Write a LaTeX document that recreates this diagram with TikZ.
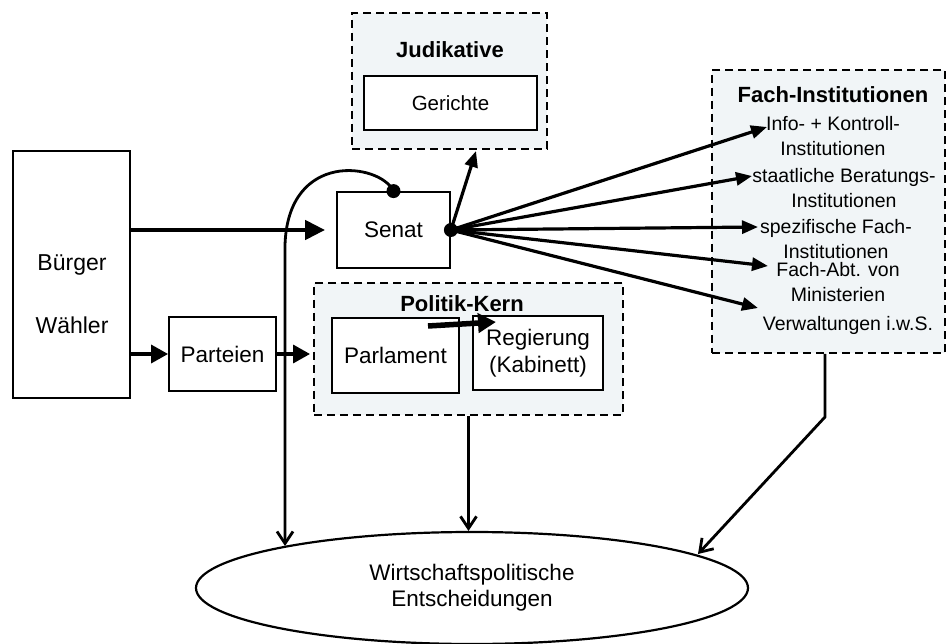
\documentclass[tikz,border=0pt]{standalone}
\usepackage{fontspec}
\setmainfont{Liberation Sans}
\usetikzlibrary{arrows.meta,shapes.geometric}
\definecolor{groupfill}{RGB}{241,245,247}
\begin{document}
\begin{tikzpicture}[x=1pt,y=-1pt,
  box/.style={draw,line width=1.8pt,fill=white,inner sep=0pt,align=center,font=\fontsize{22.5}{27}\selectfont},
  txt/.style={inner sep=0pt,align=center,font=\fontsize{23}{26}\selectfont},
  group/.style={draw,dash pattern=on 8pt off 5pt,line width=1.9pt,fill=groupfill,inner sep=0pt},
  head/.style={inner sep=0pt,font=\bfseries\fontsize{22}{25}\selectfont},
  item/.style={inner sep=0pt,align=center,font=\fontsize{19.5}{25}\selectfont},
  fan/.style={line width=3.2pt,-{Triangle[length=16pt,width=13pt]}},
  bigarrow/.style={line width=4.5pt,-{Triangle[length=20pt,width=19pt]}},
  midarrow/.style={line width=3.4pt,-{Triangle[length=17pt,width=18pt]}},
  openarrow/.style={line width=2.8pt,-{Straight Barb[length=12pt,width=16pt,line width=2.8pt]}},
  dot/.style={circle,fill,inner sep=0pt,minimum size=14pt}]

\useasboundingbox (0,0) rectangle (948,644);

% dashed groups
\node[group,minimum width=195pt,minimum height=136pt] (jud) at (449.5,81) {};
\node[group,minimum width=309pt,minimum height=132pt] (pk) at (468.5,349) {};
\node[group,minimum width=233pt,minimum height=283pt] (fach) at (828.5,211.5) {};

\node[head] (judh) at (450,50) {Judikative};
\node[head] (pkh) at (462,304) {Politik-Kern};
\node[head] (fachh) at (833,95) {Fach-Institutionen};

% boxes
\node[box,minimum width=173pt,minimum height=54pt,font=\fontsize{20.5}{24}\selectfont] (ger) at (450.5,103) {Gerichte};
\node[box,minimum width=117pt,minimum height=247pt] (buerger) at (71.5,274.5) {};
\node[txt] (bt) at (72,265) {Bürger};
\node[txt] (wt) at (72,325) {Wähler};
\node[box,minimum width=113pt,minimum height=76pt] (senat) at (393.5,230) {Senat};
\node[box,minimum width=107pt,minimum height=74pt] (parteien) at (222.5,354) {Parteien};
\node[box,minimum width=127pt,minimum height=75pt] (parl) at (395.5,355.5) {Parlament};
\node[box,minimum width=130pt,minimum height=74pt] (reg) at (538,353) {Regierung\\(Kabinett)};

\node[draw,ellipse,line width=2.2pt,minimum width=552pt,minimum height=112pt,inner sep=0pt,align=center,font=\fontsize{22.5}{26}\selectfont] (ell) at (472,588) {Wirtschaftspolitische\\Entscheidungen};

% Fach items
\node[item] (i1) at (833,136.5) {Info- + Kontroll-\\Institutionen};
\node[item] (i2) at (844,188.5) {staatliche Beratungs-\\Institutionen};
\node[item] (i3) at (836,239.5) {spezifische Fach-\\Institutionen};
\node[item] (i4) at (838,282.5) {Fach-Abt. von\\Ministerien};
\node[item] (i5) at (848,325) {Verwaltungen i.w.S.};

% coordinates
\coordinate (t1) at (767,127);
\coordinate (t2) at (752,176);
\coordinate (t3) at (758,227);
\coordinate (t4) at (768,266);
\coordinate (t5) at (758,308);
\coordinate (tj) at (476,151);
\coordinate (cL) at (285,546);
\coordinate (fb) at (825,417);
\coordinate (fr) at (698,554);
\coordinate (pa) at (428,326);
\coordinate (pb) at (496,322);

% connectors
\draw[bigarrow,shorten >=11pt] (buerger.east |- senat.west) -- (senat.west);
\draw[midarrow] (buerger.east |- parteien.west) -- (parteien.west);
\draw[midarrow,shorten >=3pt] (parteien.east) -- (parteien.east -| pk.west);
\draw[line width=5.5pt,-{Triangle[length=18pt,width=19pt]}] (pa) -- (pb);

\node[dot] (d1) at (senat.east) {};
\node[dot] (d2) at (senat.north) {};

\draw[fan] (d1.center) -- (tj);
\draw[fan] (d1.center) -- (t1);
\draw[fan] (d1.center) -- (t2);
\draw[fan] (d1.center) -- (t3);
\draw[fan] (d1.center) -- (t4);
\draw[fan] (d1.center) -- (t5);

\draw[openarrow] (d2.center) .. controls (380,163) and (288,150) .. (285,245) -- (cL);
\draw[openarrow] (pk.south) -- (pk.south |- ell.north);
\draw[openarrow] (fach.south -| fb) -- (fb) -- (fr);
\end{tikzpicture}
\end{document}
